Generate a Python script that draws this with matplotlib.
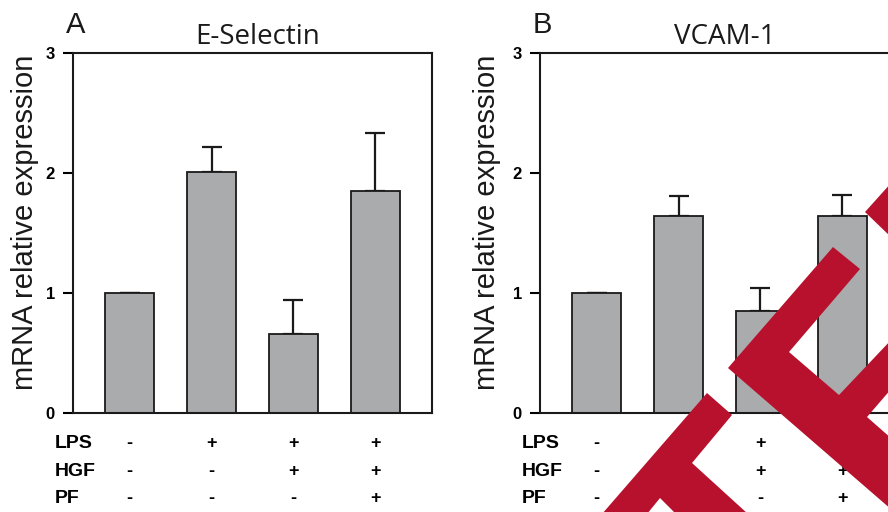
import matplotlib
matplotlib.use("Agg")
import matplotlib.pyplot as plt
from matplotlib.patches import Polygon
import numpy as np

# data
lps = ["-", "+", "+", "+"]
hgf = ["-", "-", "+", "+"]
pf = ["-", "-", "-", "+"]

esel_mean = [1.0, 2.01, 0.66, 1.85]
esel_err = [0.0, 0.21, 0.28, 0.48]

vcam_mean = [1.0, 1.64, 0.85, 1.64]
vcam_err = [0.0, 0.17, 0.19, 0.18]

yticks = [0, 1, 2, 3]

W, H = 888, 512
fig = plt.figure(figsize=(W / 100, H / 100), dpi=100)

bar_color = "#aaabad"
red = "#b8112e"


def px(x, y):
    # pixel position -> figure fraction
    return (x / W, 1 - y / H)


def panel(left_px, mean, err, letter, title, label_x):
    ax = fig.add_axes([left_px / W, (H - 413) / H, 359 / W, 360 / H])
    x = np.arange(len(mean))
    ax.errorbar(x, mean, yerr=[np.zeros(len(err)), err], fmt="none",
                ecolor="#1a1a1a", elinewidth=1.6, capsize=7.5, capthick=1.6, zorder=1)
    ax.bar(x, mean, width=0.6, color=bar_color, edgecolor="#1a1a1a",
           linewidth=1.3, zorder=2)
    ax.set_xlim(-0.69, 3.69)
    ax.set_ylim(0, 3)
    ax.set_yticks(yticks)
    ax.set_yticklabels([str(t) for t in yticks], fontweight="bold",
                       fontsize=12, family="Liberation Sans")
    ax.set_xticks([])
    ax.tick_params(axis="y", length=7, width=1.5, pad=6, direction="out")
    for s in ax.spines.values():
        s.set_linewidth(1.5)
        s.set_color("#1a1a1a")
    ax.set_ylabel("mRNA relative expression", fontsize=21, family="Liberation Sans",
                  color="#1a1a1a")
    ax.yaxis.set_label_coords(label_x, 0.53)
    ax.text(0.515, 1.025, title, transform=ax.transAxes, fontsize=20,
            family="Open Sans", ha="center", va="baseline", color="#1a1a1a")
    ax.text(-0.02, 1.055, letter, transform=ax.transAxes, fontsize=21,
            family="Liberation Sans", ha="left", va="baseline", color="#1a1a1a")

    trans = ax.get_xaxis_transform()
    rows = [("LPS", lps, -0.086), ("HGF", hgf, -0.163), ("PF", pf, -0.238)]
    for name, signs, yy in rows:
        ax.text(-0.05, yy, name, transform=ax.transAxes, fontsize=14,
                fontweight="bold", family="Liberation Sans", ha="left", va="center")
        for i, sg in enumerate(signs):
            ax.text(x[i], yy, sg, transform=trans, fontsize=13, fontweight="bold",
                    family="Liberation Sans", ha="center", va="center")
    return ax


panel(73, esel_mean, esel_err, "A", "E-Selectin", -0.095)
panel(540, vcam_mean, vcam_err, "B", "VCAM-1", -0.11)

# red logo overlay in the lower right corner
shapes = [
    [(865, 212), (892, 182), (892, 238)],
    [(728, 368), (833, 247), (860, 269), (789, 352), (839, 395), (892, 339),
     (892, 388), (867, 417), (892, 439), (892, 510)],
    [(707, 393), (732, 415), (692, 463), (748, 514), (676, 514), (660, 498),
     (647, 514), (602, 514)],
]
for pts in shapes:
    fig.add_artist(Polygon([px(a, b) for a, b in pts], closed=True,
                           facecolor=red, edgecolor="none",
                           transform=fig.transFigure, zorder=10))

fig.savefig("out.png", dpi=100)
